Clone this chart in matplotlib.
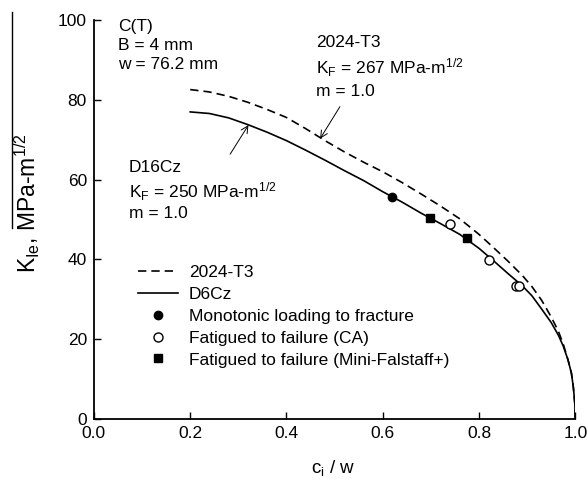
import matplotlib
matplotlib.use('Agg')
import matplotlib.pyplot as plt
from matplotlib.lines import Line2D

plt.rcParams['font.family'] = 'Liberation Sans'
plt.rcParams['mathtext.fontset'] = 'custom'
plt.rcParams['mathtext.rm'] = 'Liberation Sans'
plt.rcParams['mathtext.it'] = 'Liberation Sans:italic'
plt.rcParams['font.size'] = 12.5

# curves
t3_x = [0.20, 0.24, 0.28, 0.32, 0.36, 0.40, 0.44, 0.48, 0.52, 0.56, 0.60, 0.64, 0.68, 0.72,
        0.76, 0.80, 0.83, 0.86, 0.89, 0.91, 0.93, 0.95, 0.965, 0.975, 0.985, 0.992, 0.996, 0.999, 1.0]
t3_y = [82.6, 82.0, 80.9, 79.4, 77.6, 75.6, 72.8, 69.8, 67.0, 64.4, 62.0, 59.3, 56.4, 53.4,
        50.2, 46.3, 43.0, 39.6, 36.0, 33.2, 29.8, 25.6, 22.0, 18.8, 14.8, 11.5, 8.0, 4.0, 0.0]

d6_x = [0.20, 0.24, 0.28, 0.32, 0.36, 0.40, 0.44, 0.48, 0.52, 0.56, 0.60, 0.64, 0.68, 0.72,
        0.76, 0.80, 0.83, 0.86, 0.89, 0.91, 0.93, 0.95, 0.965, 0.975, 0.985, 0.992, 0.996, 0.999, 1.0]
d6_y = [77.0, 76.6, 75.5, 73.8, 71.9, 69.8, 67.4, 64.9, 62.3, 59.8, 57.0, 54.4, 51.6, 49.0,
        46.3, 42.8, 39.7, 36.5, 33.4, 30.9, 27.6, 24.2, 21.0, 18.3, 14.8, 11.5, 8.0, 4.0, 0.0]

# test points
mono_x = [0.62]
mono_y = [55.6]
ca_x = [0.739, 0.82, 0.877, 0.884]
ca_y = [49.0, 39.8, 33.4, 33.4]
mf_x = [0.699, 0.775]
mf_y = [50.3, 45.5]

fig = plt.figure(figsize=(5.87, 4.8), dpi=100)
ax = fig.add_axes([0.160, 0.127, 0.820, 0.831])

ax.plot(t3_x, t3_y, color='black', lw=1.2, ls=(0, (5, 3)), label='2024-T3')
ax.plot(d6_x, d6_y, color='black', lw=1.2, ls='-', label='D6Cz')
ax.plot(mono_x, mono_y, 'o', color='black', ms=6, label='Monotonic loading to fracture')
ax.plot(ca_x, ca_y, 'o', mfc='white', mec='black', mew=1.0, ms=6.5, label='Fatigued to failure (CA)')
ax.plot(mf_x, mf_y, 's', color='black', ms=6, label='Fatigued to failure (Mini-Falstaff+)')

ax.set_xlim(0, 1.0)
ax.set_ylim(0, 100)
ax.set_xticks([0.0, 0.2, 0.4, 0.6, 0.8, 1.0])
ax.set_yticks([0, 20, 40, 60, 80, 100])
ax.xaxis.set_major_formatter(plt.FuncFormatter(lambda v, p: f'{v:.1f}'))
ax.tick_params(direction='in', length=5, width=1.0, labelsize=12.5, pad=5)
ax.spines['top'].set_visible(False)
ax.spines['right'].set_visible(False)
for s in ['left', 'bottom']:
    ax.spines[s].set_linewidth(1.3)

ax.set_xlabel('c$_\\mathrm{i}$ / w', fontsize=13.5)
ax.set_ylabel('K$_\\mathrm{Ie}$, MPa-m$^{1/2}$', fontsize=16.5)
ax.xaxis.set_label_coords(0.497, -0.098)
ax.yaxis.set_label_coords(-0.108, 0.541)

ax.text(0.05, 100.3, 'C(T)\nB = 4 mm\nw = 76.2 mm', ha='left', va='top',
        fontsize=12.5, linespacing=1.33)
ax.text(0.462, 96.4, '2024-T3\nK$_\\mathrm{F}$ = 267 MPa-m$^{1/2}$\nm = 1.0',
        ha='left', va='top', fontsize=12.5, linespacing=1.4)
ax.text(0.073, 64.9, 'D16Cz\nK$_\\mathrm{F}$ = 250 MPa-m$^{1/2}$\nm = 1.0',
        ha='left', va='top', fontsize=12.5, linespacing=1.28)

arrow = dict(arrowstyle='->', color='black', lw=0.7, shrinkA=0, shrinkB=0)
ax.annotate('', xy=(0.321, 73.7), xytext=(0.283, 66.4), arrowprops=arrow)
ax.annotate('', xy=(0.470, 70.3), xytext=(0.511, 78.3), arrowprops=arrow)

ax.legend(loc='upper left', bbox_to_anchor=(0.0915, 0.387), frameon=False,
          handlelength=2.3, handletextpad=0.63, labelspacing=0.39,
          fontsize=12.5, borderaxespad=0, borderpad=0)

# stray rule at the left edge of the scan
fig.add_artist(Line2D([0.0204, 0.0204], [0.525, 0.975], color='black', lw=1.0,
                      transform=fig.transFigure))

fig.savefig('out.png', dpi=100)
